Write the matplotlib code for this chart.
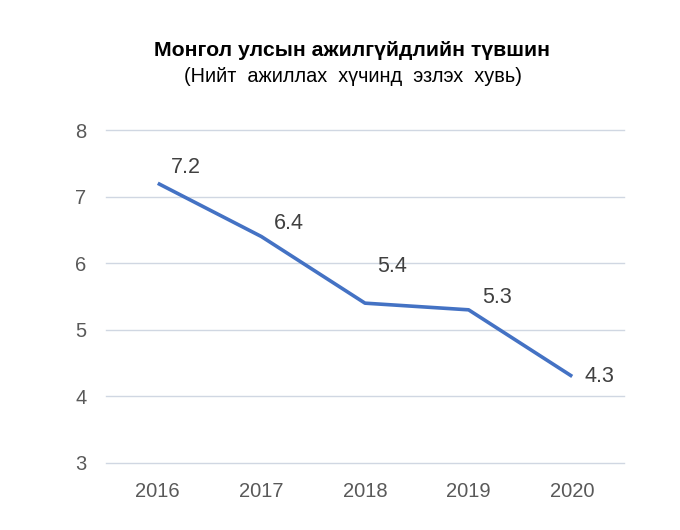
import matplotlib
matplotlib.use("Agg")
import matplotlib.pyplot as plt

years = ["2016", "2017", "2018", "2019", "2020"]
values = [7.2, 6.4, 5.4, 5.3, 4.3]
label_offsets_px = [(28, 16), (27, 13), (27, 37), (28, 12), (27, 0)]
yticks = [3, 4, 5, 6, 7, 8]

plt.rcParams['font.family'] = ['Liberation Sans', 'DejaVu Sans']

fig = plt.figure(figsize=(6.8, 5.3), dpi=100)
ax = fig.add_axes([106/680, 1-463/530, (624-106)/680, (463-130)/530])

x = list(range(len(years)))
ax.plot(x, values, color='#4472C4', linewidth=2.6, solid_capstyle='butt', solid_joinstyle='round')

for xi, v, off in zip(x, values, label_offsets_px):
    ax.annotate(f"{v}", (xi, v), xytext=off, textcoords='offset pixels',
                ha='center', va='center', fontsize=15.5, color='#404040')

ax.set_xlim(-0.5, len(years) - 0.5)
ax.set_ylim(3, 8)
ax.set_yticks(yticks)
ax.set_xticks(x)
ax.set_xticklabels(years)
ax.grid(axis='y', color='#D0D7E2', linewidth=1.0)
for gl in ax.get_ygridlines():
    gl.set_clip_on(False)
ax.set_axisbelow(True)
for s in ax.spines.values():
    s.set_visible(False)
ax.tick_params(axis='both', length=0, labelsize=14.5, labelcolor='#595959')
ax.tick_params(axis='y', pad=14)
ax.tick_params(axis='x', pad=14)

fig.text(352/680, 1-50/530, "Монгол улсын ажилгүйдлийн түвшин", ha='center', va='center',
         fontsize=15.3, fontweight='bold', color='black')
fig.text(353/680, 1-76/530, "(Нийт  ажиллах  хүчинд  эзлэх  хувь)", ha='center', va='center',
         fontsize=14.3, color='black')

fig.savefig("out.png", dpi=100, facecolor='white')
